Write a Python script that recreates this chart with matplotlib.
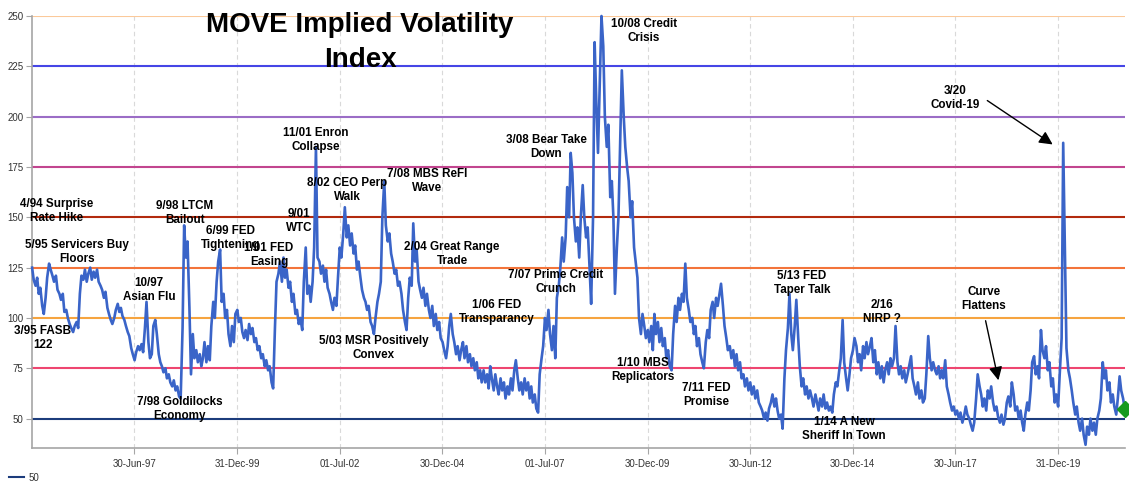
import matplotlib
matplotlib.use("Agg")
import matplotlib.pyplot as plt
import pandas as pd
from matplotlib.lines import Line2D

plt.rcParams['font.family'] = ['Liberation Sans', 'DejaVu Sans']

W, H = 1129, 482

# MOVE index, two readings a month (1st and 15th)
move_1995_1999 = [
    125, 119, 116, 120, 112, 115, 106, 102, 110, 120, 127, 124, 121, 118, 121, 114, 112, 109, 112, 103, 104, 100, 97, 95,
    93, 96, 98, 95, 112, 121, 119, 124, 118, 122, 125, 119, 123, 120, 124, 118, 116, 114, 110, 113, 105, 102, 99, 97,
    100, 104, 107, 103, 105, 101, 99, 96, 93, 91, 85, 82, 79, 83, 86, 84, 87, 83, 95, 108, 88, 80, 82, 96,
    99, 92, 82, 78, 76, 73, 75, 70, 72, 68, 66, 69, 64, 66, 61, 60, 95, 146, 130, 138, 105, 72, 92, 80,
    84, 78, 82, 76, 80, 88, 78, 86, 79, 96, 108, 100, 118, 128, 134, 108, 112, 100, 104, 92, 86, 96, 88, 102,
]
move_2000_2004 = [
    104, 98, 100, 93, 90, 94, 89, 97, 92, 95, 88, 90, 84, 86, 80, 82, 76, 79, 74, 76, 68, 65, 95, 118,
    122, 128, 118, 130, 120, 124, 115, 118, 108, 112, 102, 104, 97, 100, 94, 118, 135, 112, 116, 108, 118, 135, 185, 130,
    128, 122, 126, 118, 124, 115, 112, 108, 104, 110, 106, 120, 135, 130, 142, 155, 140, 146, 136, 142, 132, 136, 124, 128,
    120, 114, 110, 108, 104, 106, 98, 96, 92, 100, 108, 112, 118, 150, 168, 146, 138, 142, 132, 128, 122, 124, 116, 118,
    112, 104, 98, 94, 110, 120, 116, 147, 128, 134, 118, 114, 110, 115, 106, 112, 104, 100, 106, 96, 102, 94, 98, 90,
]
move_2005_2009 = [
    88, 84, 80, 86, 96, 102, 92, 88, 82, 86, 79, 84, 88, 80, 86, 78, 82, 76, 80, 74, 78, 70, 74, 68,
    74, 68, 72, 65, 76, 70, 64, 72, 66, 62, 70, 64, 68, 60, 66, 62, 70, 64, 74, 79, 70, 64, 68, 62,
    70, 64, 68, 60, 66, 58, 62, 55, 53, 72, 80, 86, 100, 94, 104, 92, 84, 96, 80, 110, 116, 125, 140, 128,
    140, 165, 150, 182, 172, 150, 138, 145, 130, 150, 166, 150, 140, 145, 125, 107, 150, 237, 205, 182, 220, 250, 235, 200,
    185, 196, 160, 168, 150, 112, 135, 150, 190, 223, 200, 185, 175, 168, 150, 158, 135, 128, 120, 100, 92, 102, 96, 90,
]
move_2010_2014 = [
    94, 88, 96, 84, 102, 92, 98, 88, 95, 86, 90, 80, 84, 76, 74, 92, 106, 98, 110, 104, 112, 108, 127, 110,
    104, 98, 100, 92, 96, 86, 90, 82, 78, 75, 88, 94, 90, 104, 108, 100, 110, 106, 112, 117, 106, 96, 90, 84,
    86, 80, 84, 76, 82, 74, 78, 70, 72, 66, 70, 64, 68, 62, 66, 60, 64, 58, 56, 54, 50, 53, 49, 55,
    58, 62, 56, 60, 54, 50, 52, 45, 70, 84, 95, 112, 92, 84, 96, 109, 90, 76, 66, 70, 62, 66, 60, 64,
    60, 56, 62, 58, 54, 60, 56, 62, 55, 58, 54, 56, 53, 62, 68, 66, 74, 80, 99, 78, 70, 64, 72, 80,
]
move_2015_2019 = [
    84, 90, 86, 78, 82, 74, 86, 80, 88, 82, 86, 90, 78, 84, 72, 78, 70, 76, 68, 74, 78, 72, 80, 76,
    80, 96, 78, 72, 76, 70, 74, 68, 72, 76, 81, 70, 66, 62, 68, 60, 64, 58, 60, 72, 91, 80, 74, 78,
    74, 72, 76, 70, 74, 70, 79, 66, 62, 58, 54, 56, 52, 54, 50, 53, 48, 51, 56, 52, 50, 47, 44, 48,
    60, 72, 66, 62, 56, 60, 54, 64, 60, 66, 58, 54, 56, 51, 48, 52, 47, 50, 58, 61, 56, 68, 62, 54,
    56, 50, 54, 48, 44, 52, 58, 54, 64, 78, 81, 72, 76, 70, 94, 84, 80, 86, 74, 78, 66, 70, 58, 62,
]
move_2020_2021 = [
    56, 72, 90, 187, 135, 85, 74, 70, 64, 58, 52, 56, 48, 44, 50, 42, 37, 46, 42, 50, 44, 48, 42, 50,
    54, 60, 78, 70, 74, 64, 68, 58, 62, 56, 52, 60, 71, 64, 60, 55,
]

dates = pd.date_range("1995-01-01", "2021-08-15", freq="SMS")
move = move_1995_1999 + move_2000_2004 + move_2005_2009 + move_2010_2014 + move_2015_2019 + move_2020_2021

levels = [50, 75, 100, 125, 150, 175, 200, 225, 250]
level_colors = ["#1c3c7c", "#ee4670", "#f6a43f", "#f3743a", "#b22a0e",
                "#c2458f", "#9b6dc6", "#4646e6", "#fbc99a"]

tick_dates = ["1997-06-30", "1999-12-31", "2002-07-01", "2004-12-30", "2007-07-01",
              "2009-12-30", "2012-06-30", "2014-12-30", "2017-06-30", "2019-12-31"]
tick_labels = ["30-Jun-97", "31-Dec-99", "01-Jul-02", "30-Dec-04", "01-Jul-07",
               "30-Dec-09", "30-Jun-12", "30-Dec-14", "30-Jun-17", "31-Dec-19"]

# event notes: text, centre position in pixels (x from left, y from top)
notes = [
    ("4/94 Surprise\nRate Hike", 57, 211),
    ("5/95 Servicers Buy\nFloors", 77, 252),
    ("3/95 FASB\n122", 43, 338),
    ("10/97\nAsian Flu", 149, 290),
    ("7/98 Goldilocks\nEconomy", 180, 409),
    ("9/98 LTCM\nBailout", 185, 213),
    ("6/99 FED\nTightening", 231, 238),
    ("1/01 FED\nEasing", 269, 255),
    ("9/01\nWTC", 299, 221),
    ("11/01 Enron\nCollapse", 316, 140),
    ("8/02 CEO Perp\nWalk", 347, 190),
    ("7/08 MBS ReFI\nWave", 427, 181),
    ("2/04 Great Range\nTrade", 452, 254),
    ("5/03 MSR Positively\nConvex", 374, 348),
    ("1/06 FED\nTransparancy", 497, 312),
    ("7/07 Prime Credit\nCrunch", 556, 282),
    ("3/08 Bear Take\nDown", 546, 147),
    ("10/08 Credit\nCrisis", 644, 31),
    ("1/10 MBS\nReplicators", 643, 370),
    ("7/11 FED\nPromise", 706, 395),
    ("5/13 FED\nTaper Talk", 802, 283),
    ("1/14 A New\nSheriff In Town", 844, 429),
    ("2/16\nNIRP ?", 882, 312),
    ("Curve\nFlattens", 984, 299),
    ("3/20\nCovid-19", 955, 98),
]
# arrows: tail and head in pixels
arrows = [((985, 318), (999, 383)), ((985, 99), (1055, 146))]


def fig_xy(px, py):
    return px / W, 1 - py / H


fig = plt.figure(figsize=(W / 100, H / 100), dpi=100)
ax = fig.add_axes([32 / W, 34 / H, (1125 - 32) / W, (448 - 16) / H])

for lev, col in zip(levels, level_colors):
    ax.axhline(lev, color=col, lw=1.5, zorder=2)

ax.plot(dates, move, color="#3a64c8", lw=1.9, zorder=3, clip_on=False)
ax.plot(dates[-1], move[-1], marker="D", color="#159a1e", ms=8, zorder=4, clip_on=False)

ax.set_xlim(pd.Timestamp("1994-12-31"), pd.Timestamp("2021-08-18"))
ax.set_ylim(35.4, 250)
ax.set_yticks(levels)
ax.set_xticks(pd.to_datetime(tick_dates))
ax.set_xticklabels(tick_labels)
ax.xaxis.grid(True, linestyle=(0, (4, 3)), color="#d9d9d9", lw=0.8, zorder=0)
ax.set_axisbelow(True)

for s in ["top", "right"]:
    ax.spines[s].set_visible(False)
for s in ["left", "bottom"]:
    ax.spines[s].set_color("#a6a6a6")
    ax.spines[s].set_linewidth(1.2)
ax.tick_params(axis="both", colors="#a6a6a6", labelcolor="#333333", labelsize=7, length=4, pad=2)
ax.tick_params(axis="x", pad=4)

fig.text(360 / W, 1 - 42.5 / H, "MOVE Implied Volatility\nIndex", ha="center", va="center",
         fontsize=20, fontweight="bold", linespacing=1.45)

for txt, px, py in notes:
    x, y = fig_xy(px, py)
    fig.text(x, y, txt, ha="center", va="center", fontsize=8.4, fontweight="bold",
             linespacing=1.25, zorder=5)

for tail, head in arrows:
    ax.annotate("", xy=fig_xy(*head), xycoords="figure fraction",
                xytext=fig_xy(*tail), textcoords="figure fraction",
                arrowprops=dict(arrowstyle="-|>", color="black", lw=1, mutation_scale=20))

fig.legend(handles=[Line2D([], [], color=level_colors[0], lw=1.5)], labels=["50"],
           loc="lower left", bbox_to_anchor=(0.0, -0.02), frameon=False, fontsize=7,
           handlelength=1.6, handletextpad=0.4, labelcolor="#333333")

fig.savefig("out.png", dpi=100)
